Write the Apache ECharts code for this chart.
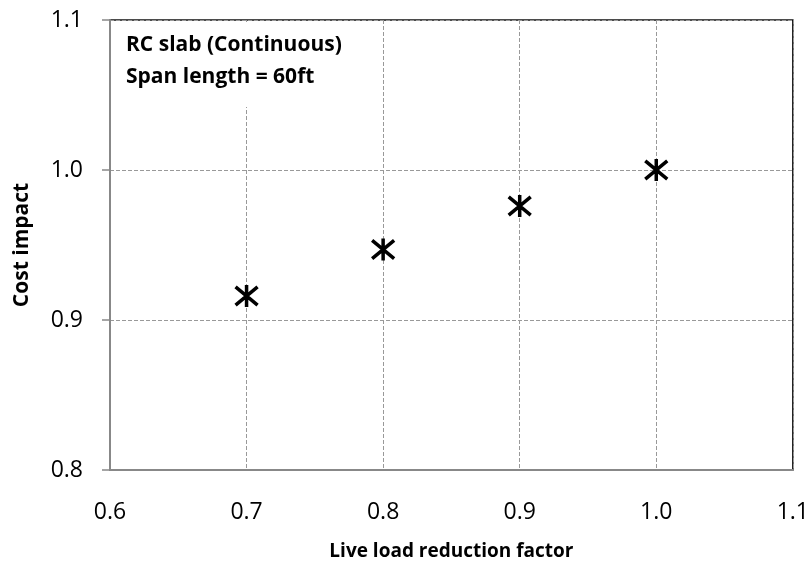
<!DOCTYPE html>
<html>
<head>
<meta charset="utf-8">
<script src="https://cdn.jsdelivr.net/npm/echarts@6/dist/echarts.min.js"></script>
<style>
  html, body { margin: 0; padding: 0; background: #fff; }
  #chart { width: 812px; height: 569px; }
</style>
</head>
<body>
<div id="chart"></div>
<script>
var loadFactor = [0.7, 0.8, 0.9, 1.0];
var costImpact = [0.916, 0.947, 0.976, 1.0];
var noteLines = ['RC slab (Continuous)', 'Span length = 60ft'];

var font = "'Open Sans', sans-serif";
var points = loadFactor.map(function (x, i) { return [x, costImpact[i]]; });

var myChart = echarts.init(document.getElementById('chart'));
var option = {
    animation: false,
    backgroundColor: '#fff',
    title: {
        text: noteLines.join('\n'),
        left: 112,
        top: 22,
        backgroundColor: '#fff',
        padding: [7, 14, 14, 14],
        textStyle: {
            fontFamily: font,
            fontWeight: 'bold',
            fontSize: 21,
            lineHeight: 32,
            color: '#000'
        }
    },
    grid: {
        left: 110,
        top: 20,
        right: 19,
        bottom: 99,
        show: true,
        borderColor: '#111',
        borderWidth: 1.5
    },
    xAxis: {
        type: 'value',
        min: 0.6,
        max: 1.1,
        interval: 0.1,
        name: 'Live load reduction factor',
        nameLocation: 'middle',
        nameGap: 72,
        nameTextStyle: { fontFamily: font, fontWeight: 'bold', fontSize: 19, color: '#000' },
        axisLine: { show: true, lineStyle: { color: '#888', width: 2 } },
        axisTick: { show: false },
        axisLabel: {
            margin: 31,
            fontFamily: font,
            fontSize: 23,
            color: '#000',
            formatter: function (v) { return v.toFixed(1); }
        },
        splitLine: { show: true, lineStyle: { color: '#999', type: [4, 2], width: 1 } }
    },
    yAxis: {
        type: 'value',
        min: 0.8,
        max: 1.1,
        interval: 0.1,
        name: 'Cost impact',
        nameLocation: 'middle',
        nameGap: 77,
        nameTextStyle: { fontFamily: font, fontWeight: 'bold', fontSize: 21, color: '#000' },
        axisLine: { show: true, lineStyle: { color: '#888', width: 2 } },
        axisTick: { show: true, inside: false, length: 8, lineStyle: { color: '#888', width: 1.5 } },
        axisLabel: {
            margin: 27,
            fontFamily: font,
            fontSize: 23,
            color: '#000',
            formatter: function (v) { return v.toFixed(1); }
        },
        splitLine: { show: true, lineStyle: { color: '#999', type: [4, 2], width: 1 } }
    },
    series: [
        {
            type: 'scatter',
            data: points,
            symbol: 'path://M0 0L10 10M10 0L0 10M5 -1L5 11',
            symbolSize: [22, 22],
            itemStyle: { color: 'rgba(0,0,0,0)', borderColor: '#000', borderWidth: 3.5, opacity: 1 }
        }
    ]
};
myChart.setOption(option);
</script>
</body>
</html>
